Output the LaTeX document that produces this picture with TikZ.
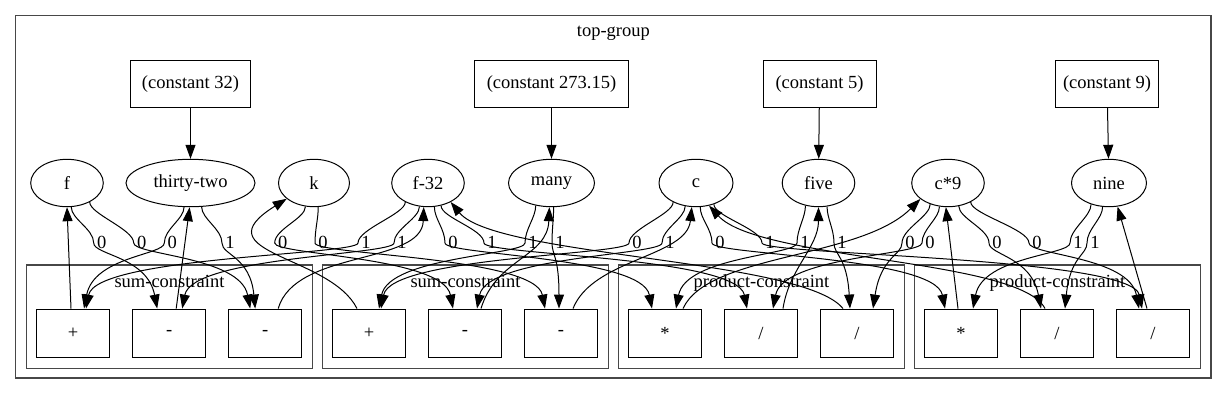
\documentclass[tikz,border=0pt]{standalone}
\usepackage{fontspec}
\setmainfont{Liberation Serif}
\usetikzlibrary{arrows.meta,shapes.geometric}
\newcommand\myedge[6]{%
  \draw[e] (#1) .. controls +(0,12) and +(0,-14) .. (#2) .. controls +(0,12) and +(#5,-52) .. ([xshift=#4]#3.north);}
\begin{document}
\begin{tikzpicture}[x=1pt,y=-1pt,
  every node/.style={font=\fontsize{18.5}{20}\selectfont},
  ell/.style={draw,ellipse,line width=1pt,inner sep=0pt,minimum height=47.4pt,minimum width=72.6pt},
  opbox/.style={draw,rectangle,line width=1pt,minimum width=72.7pt,minimum height=48.3pt,inner sep=0pt},
  constbox/.style={draw,rectangle,line width=1pt,minimum height=47.7pt,inner sep=0pt},
  cluster/.style={draw=black!72,line width=1.4pt,rectangle,inner sep=0pt},
  e/.style={line width=1pt,-{Triangle[length=14pt,width=10pt]}},
  lab/.style={anchor=base,inner sep=0pt},
]
\useasboundingbox (0,0) rectangle (1227,405);
\fill[white] (0,0) rectangle (1227,405);
% clusters
\node[cluster,minimum width=1195.3pt,minimum height=362.3pt] (top) at (613.35,196.85) {};
\node[lab] (topt) at (613.35,36) {top-group};
\node[cluster,minimum width=285.6pt,minimum height=103.3pt] (cl1) at (169.5,316.7) {};
\node[cluster,minimum width=285.6pt,minimum height=103.3pt] (cl2) at (465.5,316.7) {};
\node[cluster,minimum width=285.6pt,minimum height=103.3pt] (cl3) at (761.5,316.7) {};
\node[cluster,minimum width=285.6pt,minimum height=103.3pt] (cl4) at (1057.5,316.7) {};
\node[lab] (cl1t) at (169.5,287.3) {sum-constraint};
\node[lab] (cl2t) at (465.5,287.3) {sum-constraint};
\node[lab] (cl3t) at (761.5,287.3) {product-constraint};
\node[lab] (cl4t) at (1057.5,287.3) {product-constraint};
% constants
\node[constbox,minimum width=120.4pt] (k32) at (190.5,83.85) {(constant 32)};
\node[constbox,minimum width=154pt] (k273) at (551.5,83.85) {(constant 273.15)};
\node[constbox,minimum width=113pt] (k5) at (819.5,83.85) {(constant 5)};
\node[constbox,minimum width=103pt] (k9) at (1107,83.85) {(constant 9)};
% cells
\node[ell] (f) at (67,183) {f};
\node[ell,minimum width=129pt] (tt) at (190.5,183) {thirty-two};
\node[ell,minimum width=71pt] (k) at (314,183) {k};
\node[ell] (fm) at (428,183) {f-32};
\node[ell,minimum width=86pt] (many) at (551.5,183) {many};
\node[ell,minimum width=74pt] (c) at (696,183) {c};
\node[ell] (five) at (818.5,183) {five};
\node[ell] (c9) at (948,183) {c*9};
\node[ell,minimum width=75pt] (nine) at (1109,183) {nine};
% operator boxes
\node[opbox] (sA) at (73,333.2) {+};
\node[opbox] (sB) at (169.2,333.2) {-};
\node[opbox] (sC) at (265.2,333.2) {-};
\node[opbox] (tA) at (369,333.2) {+};
\node[opbox] (tB) at (465,333.2) {-};
\node[opbox] (tC) at (561,333.2) {-};
\node[opbox] (pA) at (665,333.2) {*};
\node[opbox] (pB) at (761,333.2) {/};
\node[opbox] (pC) at (857,333.2) {/};
\node[opbox] (qA) at (961,333.2) {*};
\node[opbox] (qB) at (1057,333.2) {/};
\node[opbox] (qC) at (1153,333.2) {/};
% constant edges
\draw[e] (k32) -- (tt);
\draw[e] (k273) -- (many);
\draw[e] (k5) -- (five);
\draw[e] (k9) -- (nine);
% label points and labels
\foreach \i/\x/\t in {1/101.7/0,2/141.7/0,3/172.3/0,4/230/1,5/282.7/0,6/323/0,7/366/1,8/402/1,
  9/453/0,10/492/1,11/533/1,12/560/1,13/637/0,14/670/1,15/720/0,16/770/1,17/805/1,18/842/1,
  19/910/0,20/930/0,21/997/0,22/1037/0,23/1078/1,24/1095/1}{
  \node[lab] (L\i) at (\x,248.3) {\t};
  \coordinate (P\i) at (\x-8,243);
}
% labelled input edges
\myedge{f.-80}{P1}{sB}{-12pt}{-10}{}
\myedge{f.-40}{P2}{sC}{-15pt}{-10}{}
\myedge{tt.-105}{P3}{sA}{11pt}{10}{}
\myedge{tt.-65}{P4}{sC}{-10pt}{-5}{}
\myedge{k.-110}{P5}{tB}{-12pt}{-10}{}
\myedge{k.-80}{P6}{tC}{-16pt}{-10}{}
\myedge{fm.-140}{P7}{sA}{13pt}{10}{}
\myedge{fm.-110}{P8}{sB}{13pt}{10}{}
\myedge{fm.-75}{P9}{pA}{-13pt}{-10}{}
\myedge{fm.-60}{P10}{pB}{-14pt}{-10}{}
\myedge{many.-125}{P11}{tA}{10pt}{10}{}
\myedge{many.-85}{P12}{tC}{-2pt}{0}{}
\myedge{c.-140}{P13}{tA}{12pt}{10}{}
\myedge{c.-115}{P14}{tB}{12pt}{10}{}
\myedge{c.-80}{P15}{qA}{-16pt}{-10}{}
\myedge{c.-50}{P16}{qC}{-11pt}{-10}{}
\myedge{five.-120}{P17}{pA}{11pt}{10}{}
\myedge{five.-70}{P18}{pC}{-7pt}{-3}{}
\myedge{c9.-130}{P19}{pC}{16pt}{8}{}
\myedge{c9.-110}{P20}{pB}{12pt}{10}{}
\myedge{c9.-65}{P21}{qB}{-16pt}{-10}{}
\myedge{c9.-40}{P22}{qC}{-14pt}{-10}{}
\myedge{nine.-130}{P23}{qA}{12pt}{10}{}
\myedge{nine.-105}{P24}{qB}{8pt}{5}{}
% output edges
\draw[e] ([xshift=-2pt]sA.north) -- (f.south);
\draw[e] ([xshift=7pt]sB.north) -- (tt.-92);
\draw[e] ([xshift=13pt]sC.north) .. controls +(17,-59) and +(-2,58) .. (fm.-100);
\draw[e] ([xshift=-12pt]tA.north) .. controls +(-27,-54) and +(-88,55) .. (k.-150);
\draw[e] ([xshift=16pt]tB.north) .. controls +(15,-50) and +(-2,50) .. (many.-95);
\draw[e] ([xshift=12pt]tC.north) .. controls +(20,-50) and +(-5,50) .. (c.-100);
\draw[e] ([xshift=18pt]pA.north) .. controls +(25,-55) and +(-60,60) .. (c9.-150);
\draw[e] ([xshift=22pt]pB.north) .. controls +(6,-40) and +(0,40) .. (five.south);
\draw[e] ([xshift=-14pt]pC.north) .. controls +(-40,-50) and +(45,55) .. (fm.-40);
\draw[e] ([xshift=-3pt]qA.north) -- (c9.-95);
\draw[e] ([xshift=-12pt]qB.north) .. controls +(-25,-50) and +(50,55) .. (c.-60);
\draw[e] ([xshift=-6pt]qC.north) -- (nine.-70);
\end{tikzpicture}
\end{document}
